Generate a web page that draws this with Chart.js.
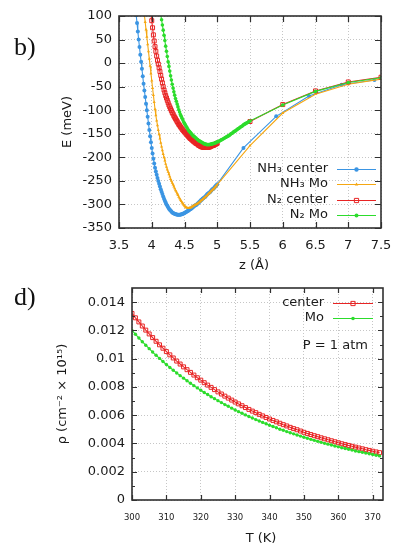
<!DOCTYPE html>
<html><head><meta charset="utf-8">
<script src="https://cdn.jsdelivr.net/npm/chart.js@4.4.1/dist/chart.umd.min.js"></script>
<style>
html,body{margin:0;padding:0;background:#fff;}
body{width:393px;height:547px;position:relative;overflow:hidden;}
canvas{position:absolute;left:0;}
#c1{top:0;}
#c2{top:275px;}
</style></head><body>
<canvas id="c1" width="393" height="275"></canvas>
<canvas id="c2" width="393" height="272"></canvas>
<script>
// ---------- panel b) : adsorption energy curves ----------
const zTicks = [3.5, 4, 4.5, 5, 5.5, 6, 6.5, 7, 7.5];
const eTicks = [-350, -300, -250, -200, -150, -100, -50, 0, 50, 100];

const nh3CenterZ = [3.75,3.7625,3.775,3.7875,3.8,3.8125,3.825,3.8375,3.85,3.8625,3.875,3.8875,3.9,3.9125,3.925,3.9375,3.95,3.9625,3.975,3.9875,4,4.0125,4.025,4.0375,4.05,4.0625,4.075,4.0875,4.1,4.1125,4.125,4.1375,4.15,4.1625,4.175,4.1875,4.2,4.2125,4.225,4.2375,4.25,4.2625,4.275,4.2875,4.3,4.3125,4.325,4.3375,4.35,4.3625,4.375,4.3875,4.4,4.4125,4.425,4.4375,4.45,4.4625,4.475,4.4875,4.5,4.5125,4.525,4.5375,4.55,4.5625,4.575,4.5875,4.6,4.6125,4.625,4.6375,4.65,4.6625,4.675,4.6875,4.7,4.7125,4.725,4.7375,4.75,4.7625,4.775,4.7875,4.8,4.8125,4.825,4.8375,4.85,4.8625,4.875,4.8875,4.9,4.9125,4.925,4.9375,4.95,4.9625,4.975,4.9875,5,5.4,5.9,6.4,6.9,7.4];
const nh3CenterE = [120,102,85,67,50,34,18,3,-12,-28,-44,-58,-72,-86,-100,-114,-128,-142,-155,-168,-180,-192,-203,-213,-222,-230,-237,-244,-250,-256,-262,-268,-273,-278,-283,-288,-292,-296,-300,-303,-306,-309,-311,-313,-315,-317,-318,-319,-320,-321,-321,-322,-322,-322,-322,-322,-321,-321,-320,-319,-318,-317,-316,-315,-314,-313,-311,-310,-309,-308,-306,-305,-303,-302,-301,-300,-298,-297,-295,-293,-291,-290,-288,-287,-285,-284,-282,-280,-278,-277,-275,-274,-272,-270,-268,-267,-265,-263,-261,-259,-257,-180,-113,-70,-46,-36];

const nh3MoZ = [3.875,3.8875,3.9,3.9125,3.925,3.9375,3.95,3.9625,3.975,3.9875,4,4.0125,4.025,4.0375,4.05,4.0625,4.075,4.0875,4.1,4.1125,4.125,4.1375,4.15,4.1625,4.175,4.1875,4.2,4.2125,4.225,4.2375,4.25,4.2625,4.275,4.2875,4.3,4.3125,4.325,4.3375,4.35,4.3625,4.375,4.3875,4.4,4.4125,4.425,4.4375,4.45,4.4625,4.475,4.4875,4.5,4.5125,4.525,4.5375,4.55,4.5625,4.575,4.5875,4.6,4.6125,4.625,4.6375,4.65,4.6625,4.675,4.6875,4.7,4.7125,4.725,4.7375,4.75,4.7625,4.775,4.7875,4.8,4.8125,4.825,4.8375,4.85,4.8625,4.875,4.8875,4.9,4.9125,4.925,4.9375,4.95,4.9625,4.975,4.9875,5,5.5,6,6.5,7,7.5];
const nh3MoE = [118,102,87,71,56,40,25,9,-6,-22,-37,-53,-68,-83,-98,-111,-122,-132,-142,-151,-160,-169,-177,-185,-193,-200,-207,-214,-220,-226,-231,-236,-241,-246,-250,-254,-258,-262,-266,-270,-273,-277,-280,-284,-287,-290,-293,-296,-298,-301,-303,-305,-306,-307,-308,-308,-307,-307,-306,-305,-304,-303,-302,-301,-300,-299,-298,-297,-295,-294,-292,-291,-289,-288,-286,-285,-283,-282,-280,-278,-276,-275,-273,-271,-269,-268,-266,-264,-262,-260,-258,-175,-106,-66,-45,-34];

const n2CenterZ = [3.975,3.9875,4,4.0125,4.025,4.0375,4.05,4.0625,4.075,4.0875,4.1,4.1125,4.125,4.1375,4.15,4.1625,4.175,4.1875,4.2,4.2125,4.225,4.2375,4.25,4.2625,4.275,4.2875,4.3,4.3125,4.325,4.3375,4.35,4.3625,4.375,4.3875,4.4,4.4125,4.425,4.4375,4.45,4.4625,4.475,4.4875,4.5,4.5125,4.525,4.5375,4.55,4.5625,4.575,4.5875,4.6,4.6125,4.625,4.6375,4.65,4.6625,4.675,4.6875,4.7,4.7125,4.725,4.7375,4.75,4.7625,4.775,4.7875,4.8,4.8125,4.825,4.8375,4.85,4.8625,4.875,4.8875,4.9,4.9125,4.925,4.9375,4.95,4.9625,4.975,4.9875,5,5.5,6,6.5,7,7.5];
const n2CenterE = [120,105,90,75,60,47,35,25,15,6,-2,-10,-18,-26,-34,-42,-50,-57,-63,-69,-74,-79,-84,-89,-93,-97,-101,-105,-108,-112,-115,-118,-121,-124,-127,-130,-132,-135,-137,-140,-142,-144,-146,-148,-150,-152,-154,-156,-158,-160,-161,-163,-164,-166,-167,-169,-170,-171,-172,-174,-175,-176,-177,-178,-178,-179,-179,-179,-179,-179,-179,-179,-178,-178,-177,-176,-175,-175,-174,-173,-172,-171,-170,-124,-88,-59,-40,-30];

const n2MoZ = [4.125,4.1375,4.15,4.1625,4.175,4.1875,4.2,4.2125,4.225,4.2375,4.25,4.2625,4.275,4.2875,4.3,4.3125,4.325,4.3375,4.35,4.3625,4.375,4.3875,4.4,4.4125,4.425,4.4375,4.45,4.4625,4.475,4.4875,4.5,4.5125,4.525,4.5375,4.55,4.5625,4.575,4.5875,4.6,4.6125,4.625,4.6375,4.65,4.6625,4.675,4.6875,4.7,4.7125,4.725,4.7375,4.75,4.7625,4.775,4.7875,4.8,4.8125,4.825,4.8375,4.85,4.8625,4.875,4.8875,4.9,4.9125,4.925,4.9375,4.95,4.9625,4.975,4.9875,5,5.0125,5.025,5.0375,5.05,5.0625,5.075,5.0875,5.1,5.1125,5.125,5.1375,5.15,5.1625,5.175,5.1875,5.2,5.2125,5.225,5.2375,5.25,5.2625,5.275,5.2875,5.3,5.3125,5.325,5.3375,5.35,5.3625,5.375,5.3875,5.4,5.4125,5.425,5.4375,5.45,5.4625,5.475,5.4875,5.5,6,6.5,7,7.5];
const n2MoE = [115,103,92,81,70,59,48,36,25,14,3,-7,-17,-27,-36,-45,-53,-61,-68,-75,-81,-87,-93,-99,-104,-109,-113,-117,-121,-125,-128,-131,-134,-137,-140,-143,-145,-147,-149,-151,-153,-155,-156,-158,-159,-161,-162,-164,-165,-166,-167,-168,-169,-170,-171,-172,-172,-173,-173,-173,-173,-173,-172,-172,-171,-171,-170,-170,-169,-168,-167,-167,-166,-165,-164,-163,-162,-161,-160,-159,-158,-157,-156,-155,-154,-153,-151,-150,-149,-148,-146,-145,-144,-143,-141,-140,-139,-138,-136,-135,-134,-133,-131,-130,-129,-128,-127,-126,-125,-124,-123,-89,-60,-41,-31];

// ---------- panel d) : coverage vs temperature ----------
const tTicks = [300, 310, 320, 330, 340, 350, 360, 370];
const rhoTicks = [0, 0.002, 0.004, 0.006, 0.008, 0.01, 0.012, 0.014];
const rhoMinor = [0.001, 0.003, 0.005, 0.007, 0.009, 0.011, 0.013];

const temperature = [300,301,302,303,304,305,306,307,308,309,310,311,312,313,314,315,316,317,318,319,320,321,322,323,324,325,326,327,328,329,330,331,332,333,334,335,336,337,338,339,340,341,342,343,344,345,346,347,348,349,350,351,352,353,354,355,356,357,358,359,360,361,362,363,364,365,366,367,368,369,370,371,372];
const rhoCenter = [0.01320,0.01289,0.01260,0.01231,0.01202,0.01175,0.01149,0.01123,0.01098,0.01074,0.01050,0.01027,0.01005,0.00983,0.00962,0.00942,0.00922,0.00903,0.00884,0.00865,0.00848,0.00830,0.00813,0.00797,0.00781,0.00765,0.00750,0.00735,0.00721,0.00707,0.00693,0.00680,0.00667,0.00654,0.00641,0.00629,0.00618,0.00606,0.00595,0.00584,0.00573,0.00563,0.00553,0.00543,0.00533,0.00524,0.00514,0.00505,0.00497,0.00488,0.00479,0.00471,0.00463,0.00455,0.00448,0.00440,0.00433,0.00426,0.00419,0.00412,0.00405,0.00398,0.00392,0.00386,0.00380,0.00374,0.00368,0.00362,0.00356,0.00351,0.00345,0.00340,0.00335];
const rhoMo = [0.01200,0.01173,0.01146,0.01120,0.01095,0.01071,0.01047,0.01024,0.01002,0.00980,0.00959,0.00938,0.00918,0.00899,0.00880,0.00862,0.00844,0.00826,0.00809,0.00793,0.00777,0.00761,0.00746,0.00731,0.00717,0.00703,0.00689,0.00675,0.00663,0.00650,0.00637,0.00625,0.00614,0.00602,0.00591,0.00580,0.00569,0.00559,0.00549,0.00539,0.00529,0.00520,0.00511,0.00501,0.00493,0.00484,0.00476,0.00468,0.00460,0.00452,0.00444,0.00437,0.00429,0.00422,0.00415,0.00408,0.00401,0.00395,0.00389,0.00382,0.00376,0.00370,0.00364,0.00359,0.00353,0.00347,0.00342,0.00337,0.00332,0.00327,0.00322,0.00317,0.00312];

// ---------- styling ----------
const FONT = '"DejaVu Sans", "Liberation Sans", sans-serif';
const TXT = '#1a1a1a';
const FRAME = '#303030';
const BLUE = '#3b95e3', ORANGE = '#f5a712', RED = '#e82424', GREEN = '#2cdc2c';
const OFF2 = 275;

function pts(xs, ys) { return xs.map((x, i) => ({x: x, y: ys[i]})); }
function series(label, xs, ys, color, style, r, filled, order) {
  return {
    label, data: pts(xs, ys), showLine: true, order,
    borderColor: color, backgroundColor: color, borderWidth: 1.1,
    pointStyle: style, pointRadius: r, pointHoverRadius: r,
    pointBorderColor: color,
    pointBackgroundColor: filled ? color : 'rgba(255,255,255,0)',
    pointBorderWidth: filled ? 0 : 1, tension: 0
  };
}
function mark(ctx, style, x, y, r, color, filled) {
  ctx.save(); ctx.setLineDash([]); ctx.strokeStyle = color; ctx.fillStyle = color; ctx.lineWidth = 1;
  ctx.beginPath();
  if (style === 'circle') ctx.arc(x, y, r, 0, Math.PI * 2);
  else if (style === 'rect') { const s = r * Math.SQRT1_2; ctx.rect(x - s, y - s, 2 * s, 2 * s); }
  else { ctx.moveTo(x, y - r); ctx.lineTo(x + r * 0.87, y + r * 0.5); ctx.lineTo(x - r * 0.87, y + r * 0.5); ctx.closePath(); }
  if (filled) ctx.fill(); else ctx.stroke();
  ctx.restore();
}
// frame box with inward tick marks on all four sides (gnuplot style)
function drawFrame(chart, xv, yv, len, yMinor, minorLen) {
  const ctx = chart.ctx;
  const area = chart.chartArea;
  const xs = chart.scales.x, ys = chart.scales.y;
  const L = Math.round(area.left), R = Math.round(area.right);
  const T = Math.round(area.top), B = Math.round(area.bottom);
  ctx.save();
  ctx.globalAlpha = 1; ctx.globalCompositeOperation = 'source-over'; ctx.setLineDash([]);
  ctx.strokeStyle = FRAME; ctx.lineWidth = 1.6;
  ctx.strokeRect(L, T, R - L, B - T);
  ctx.lineWidth = 1.2;
  ctx.beginPath();
  for (const v of xv) {
    const p = Math.round(xs.getPixelForValue(v)) + 0.5;
    ctx.moveTo(p, B); ctx.lineTo(p, B - len);
    ctx.moveTo(p, T); ctx.lineTo(p, T + len);
  }
  for (const v of yv) {
    const p = Math.round(ys.getPixelForValue(v)) + 0.5;
    ctx.moveTo(L, p); ctx.lineTo(L + len, p);
    ctx.moveTo(R, p); ctx.lineTo(R - len, p);
  }
  for (const v of (yMinor || [])) {
    const p = Math.round(ys.getPixelForValue(v)) + 0.5;
    ctx.moveTo(L, p); ctx.lineTo(L + minorLen, p);
    ctx.moveTo(R, p); ctx.lineTo(R - minorLen, p);
  }
  ctx.stroke();
  ctx.restore();
}
function legendRow(ctx, text, tx, y, x1, x2, color, style, r, filled) {
  ctx.save();
  ctx.font = '13px ' + FONT; ctx.fillStyle = TXT; ctx.textAlign = 'right'; ctx.textBaseline = 'middle';
  ctx.fillText(text, tx, y);
  ctx.strokeStyle = color; ctx.lineWidth = 1;
  ctx.beginPath(); ctx.moveTo(x1, Math.round(y) + 0.5); ctx.lineTo(x2, Math.round(y) + 0.5); ctx.stroke();
  mark(ctx, style, (x1 + x2) / 2, Math.round(y) + 0.5, r, color, filled);
  ctx.restore();
}

const topDeco = {
  id: 'topDeco',
  afterDraw(chart) {
    const ctx = chart.ctx;
    drawFrame(chart, zTicks, eTicks, 6);
    legendRow(ctx, 'NH₃ center', 328, 169, 337, 376, BLUE, 'circle', 2.2, true);
    legendRow(ctx, 'NH₃ Mo', 328, 184, 337, 376, ORANGE, 'triangle', 2, true);
    legendRow(ctx, 'N₂ center', 328, 199.5, 337, 376, RED, 'rect', 3, false);
    legendRow(ctx, 'N₂ Mo', 328, 214.5, 337, 376, GREEN, 'circle', 2, true);
    ctx.save();
    ctx.font = '13px ' + FONT; ctx.fillStyle = TXT; ctx.textAlign = 'center'; ctx.textBaseline = 'middle';
    ctx.fillText('z (Å)', 254, 266);
    ctx.translate(68, 122); ctx.rotate(-Math.PI / 2); ctx.fillText('E (meV)', 0, 0);
    ctx.restore();
    ctx.save();
    ctx.font = '26px "Liberation Serif", "DejaVu Serif", serif'; ctx.fillStyle = '#111'; ctx.textAlign = 'left'; ctx.textBaseline = 'alphabetic';
    ctx.fillText('b)', 14, 55);
    ctx.restore();
  }
};

const botDeco = {
  id: 'botDeco',
  afterDraw(chart) {
    const ctx = chart.ctx;
    drawFrame(chart, tTicks, rhoTicks, 5, rhoMinor, 3);
    legendRow(ctx, 'center', 324, 303 - OFF2, 333, 373, RED, 'rect', 3, false);
    legendRow(ctx, 'Mo', 324, 318 - OFF2, 333, 373, GREEN, 'circle', 1.8, true);
    ctx.save();
    ctx.font = '13px ' + FONT; ctx.fillStyle = TXT; ctx.textAlign = 'right'; ctx.textBaseline = 'middle';
    ctx.fillText('P = 1 atm', 368, 346 - OFF2);
    ctx.textAlign = 'center';
    ctx.fillText('T (K)', 261, 539 - OFF2);
    ctx.translate(63, 394 - OFF2); ctx.rotate(-Math.PI / 2); ctx.fillText('ρ (cm⁻² × 10¹⁵)', 0, 0);
    ctx.restore();
    ctx.save();
    ctx.font = '26px "Liberation Serif", "DejaVu Serif", serif'; ctx.fillStyle = '#111'; ctx.textAlign = 'left'; ctx.textBaseline = 'alphabetic';
    ctx.fillText('d)', 14, 305 - OFF2);
    ctx.restore();
  }
};

function axis(min, max, ticks, fontSize, pad, fitKey, fitVal) {
  return {
    type: 'linear', min, max,
    grid: {display: true, drawTicks: false, color: '#c6c6c6', lineWidth: 1},
    border: {display: false, dash: [1, 2]},
    afterBuildTicks: s => { s.ticks = ticks.map(v => ({value: v})); },
    afterFit: s => { s[fitKey] = fitVal; s.paddingLeft = 0; s.paddingRight = 0; s.paddingTop = 0; s.paddingBottom = 0; },
    ticks: {autoSkip: false, maxRotation: 0, padding: pad, color: TXT,
      font: {family: FONT, size: fontSize}, callback: v => String(v)}
  };
}

new Chart(document.getElementById('c1'), {
  type: 'scatter',
  data: {datasets: [
    series('NH₃ center', nh3CenterZ, nh3CenterE, BLUE, 'circle', 2, true, 3),
    series('NH₃ Mo', nh3MoZ, nh3MoE, ORANGE, 'triangle', 1.8, true, 2),
    series('N₂ center', n2CenterZ, n2CenterE, RED, 'rect', 2.8, false, 1),
    series('N₂ Mo', n2MoZ, n2MoE, GREEN, 'circle', 1.8, true, 0)
  ]},
  options: {
    responsive: false, animation: false, devicePixelRatio: 1,
    layout: {padding: {left: 0, right: 12, top: 16, bottom: 0}},
    plugins: {legend: {display: false}, tooltip: {enabled: false}},
    scales: {
      x: axis(3.5, 7.5, zTicks, 13, 10, 'height', 47),
      y: axis(-350, 100, eTicks, 13, 7, 'width', 119)
    }
  },
  plugins: [topDeco]
});

new Chart(document.getElementById('c2'), {
  type: 'scatter',
  data: {datasets: [
    series('center', temperature, rhoCenter, RED, 'rect', 2.8, false, 1),
    series('Mo', temperature, rhoMo, GREEN, 'circle', 1.7, true, 0)
  ]},
  options: {
    responsive: false, animation: false, devicePixelRatio: 1,
    layout: {padding: {left: 0, right: 10, top: 13, bottom: 0}},
    plugins: {legend: {display: false}, tooltip: {enabled: false}},
    scales: {
      x: axis(300, 373, tTicks, 8.5, 13, 'height', 47),
      y: axis(0, 0.015, rhoTicks, 13, 7, 'width', 132)
    }
  },
  plugins: [botDeco]
});
</script>
</body></html>
